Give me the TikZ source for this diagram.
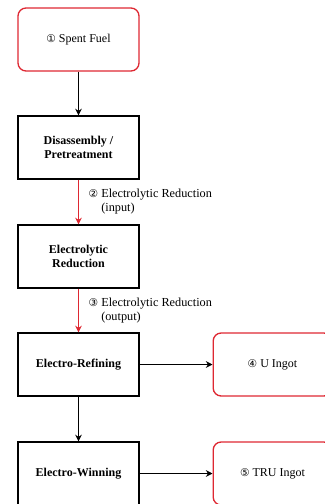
\documentclass[tikz,border=0pt]{standalone}
\usepackage{fontspec}
\setmainfont{Liberation Serif}
\newfontfamily\circfont{DejaVu Sans}
\usetikzlibrary{arrows.meta,positioning}
\definecolor{boxred}{RGB}{222,40,50}
\newcommand{\circnum}[1]{{\circfont\fontsize{8}{8}\selectfont #1}}

\begin{document}
\begin{tikzpicture}[x=0.75pt, y=-0.75pt, >={Stealth[length=5pt,width=5pt]},
    stepbox/.style={draw, line width=1pt, minimum width=90.75pt, minimum height=47.25pt,
        inner sep=0pt, align=center, font=\fontsize{9}{10.5}\selectfont\bfseries},
    endbox/.style={draw=boxred, line width=1pt, rounded corners=6pt, minimum width=90.75pt,
        minimum height=47.25pt, inner sep=0pt, align=center, font=\fontsize{9}{10.5}\selectfont},
    flow/.style={->, line width=0.8pt},
    redflow/.style={->, line width=0.8pt, draw=boxred},
    lbl/.style={anchor=west, inner sep=0pt, xshift=7.2pt, align=left, text=black,
        font=\fontsize{9.2}{10.5}\selectfont}]
    \useasboundingbox (0,0) rectangle (325,504);
    \clip (0,0) rectangle (325,504);

    % process chain
    \node[endbox] (fuel) at (78.5,39.5) {\circnum{①} Spent Fuel};
    \node[stepbox] (pre) at (78.5,147.5) {Disassembly /\\Pretreatment};
    \node[stepbox] (elred) at (78.5,256.5) {Electrolytic\\Reduction};
    \node[stepbox] (refine) at (78.5,364.5) {Electro-Refining};
    \node[stepbox] (win) at (78.5,473.5) {Electro-Winning};

    % products
    \node[endbox, minimum width=89pt] (uing) at (272.5,364.5) {\circnum{④} U Ingot};
    \node[endbox, minimum width=89pt] (tru) at (272.5,473.5) {\circnum{⑤} TRU Ingot};

    \draw[flow] (fuel) -- (pre);
    \draw[redflow] (pre) -- node[lbl] (in2) {\circnum{②} Electrolytic Reduction\\\phantom{\circnum{②} }(input)} (elred);
    \draw[redflow] (elred) -- node[lbl] (out3) {\circnum{③} Electrolytic Reduction\\\phantom{\circnum{③} }(output)} (refine);
    \draw[flow] (refine) -- (win);
    \draw[flow] (refine) -- (uing);
    \draw[flow] (win) -- (tru);
\end{tikzpicture}
\end{document}
